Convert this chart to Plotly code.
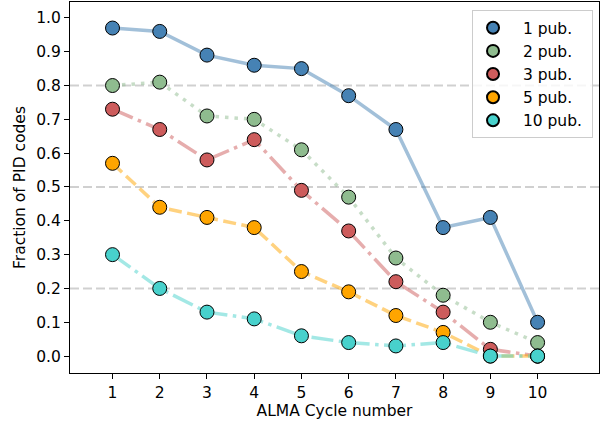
import plotly.graph_objects as go

cycles = [1, 2, 3, 4, 5, 6, 7, 8, 9, 10]
labels = ["1 pub.", "2 pub.", "3 pub.", "5 pub.", "10 pub."]
pub1 = [0.97, 0.96, 0.89, 0.86, 0.85, 0.77, 0.67, 0.38, 0.41, 0.10]
pub2 = [0.80, 0.81, 0.71, 0.70, 0.61, 0.47, 0.29, 0.18, 0.10, 0.04]
pub3 = [0.73, 0.67, 0.58, 0.64, 0.49, 0.37, 0.22, 0.13, 0.02, 0.00]
pub5 = [0.57, 0.44, 0.41, 0.38, 0.25, 0.19, 0.12, 0.07, 0.00, 0.00]
pub10 = [0.30, 0.20, 0.13, 0.11, 0.06, 0.04, 0.03, 0.04, 0.00, 0.00]
ref_lines = [0.2, 0.5, 0.8]

series = [pub1, pub2, pub3, pub5, pub10]
colors = ["#4682b4", "#8fbc8f", "#cd5c5c", "#ffa500", "#48d1cc"]
line_rgba = ["rgba(70,130,180,0.5)", "rgba(143,188,143,0.5)", "rgba(205,92,92,0.5)",
             "rgba(255,165,0,0.5)", "rgba(72,209,204,0.5)"]
dashes = ["solid", "3.5px,6px", "22px,5.5px,3.5px,5.5px", "13px,5.5px", "22px,5.5px,3.5px,5.5px"]

FS = 15.5
fig = go.Figure()
for y in ref_lines:
    fig.add_hline(y=y, line=dict(color="rgba(150,150,150,0.45)", width=2, dash="9px,4px"), layer="below")

for s, c, lc, d, lab in zip(series, colors, line_rgba, dashes, labels):
    fig.add_trace(go.Scatter(x=cycles, y=s, mode="lines", line=dict(color=lc, width=3.5, dash=d),
                             showlegend=False, hoverinfo="skip"))
for s, c, lab in zip(series, colors, labels):
    fig.add_trace(go.Scatter(x=cycles, y=s, mode="markers", name="\u00a0\u00a0" + lab + "\u00a0",
                             marker=dict(color=c, size=14, line=dict(color="black", width=1))))

axis_common = dict(showline=True, linecolor="black", linewidth=1, mirror=True, ticks="outside",
                   ticklen=5, tickcolor="black", showgrid=False, zeroline=False, automargin=False,
                   tickfont=dict(size=FS, color="black"))
fig.update_xaxes(range=[0.1, 11.3], tickvals=cycles,
                 title=dict(text="ALMA Cycle number", font=dict(size=FS, color="black"), standoff=4), **axis_common)
fig.update_yaxes(range=[-0.05, 1.047], tickvals=[i / 10 for i in range(11)], tickformat=".1f",
                 title=dict(text="Fraction of PID codes", font=dict(size=FS, color="black"), standoff=6), **axis_common)

fig.update_layout(
    width=603, height=430,
    margin=dict(l=70, r=4, t=2, b=57, autoexpand=False),
    plot_bgcolor="white", paper_bgcolor="white",
    font=dict(family="DejaVu Sans", size=FS, color="black"),
    legend=dict(x=0.9887, y=0.978, xanchor="right", yanchor="top", bgcolor="rgba(255,255,255,0.8)",
                bordercolor="#cccccc", borderwidth=1, font=dict(size=FS), itemsizing="constant",
                tracegroupgap=0),
)
fig.write_html("out.html", config={"displayModeBar": False},
               post_script="document.body.style.margin='0';")
